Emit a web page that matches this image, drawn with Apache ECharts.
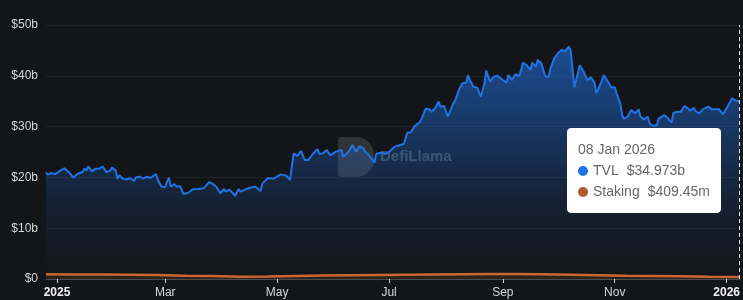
<!DOCTYPE html>
<html>
<head>
<meta charset="utf-8">
<script src="https://cdn.jsdelivr.net/npm/echarts@6/dist/echarts.min.js"></script>
<style>
html,body{margin:0;padding:0;background:#131518;}
#c{width:743px;height:300px;}
</style>
</head>
<body>
<div id="c"></div>
<script>
// Day offsets relative to 2025-01-01 (UTC)
const baseDate = '2025-01-01';
const tvlDays = [-6,-5,-3,-1,0,2,4,5,7,9,11,14,15,16,17,19,21,23,25,27,29,30,32,33,34,36,38,40,42,43,45,47,49,51,52,54,55,57,59,60,61,62,64,65,67,69,70,72,74,77,78,80,83,85,87,89,91,92,94,96,97,98,99,100,101,104,
105,108,111,112,115,118,122,125,127,129,131,133,135,137,139,140,142,143,145,147,149,152,155,156,159,161,163,165,167,168,170,173,174,177,179,181,182,184,185,187,189,191,193,195,198,199,201,203,204,206,208,209,211,213,216,217,219,221,223,224,225,227,229,231,233,234,236,238,240,
243,245,246,248,249,250,252,254,256,258,259,261,262,264,266,268,269,271,273,275,277,279,280,281,282,285,287,289,291,293,294,296,298,300,302,304,305,307,308,309,311,312,313,315,317,318,320,322,323,325,327,328,331,333,335,336,338,340,342,344,345,347,348,350,352,355,357,358,361,363,366,368,370,372];
// TVL in billions USD
const tvlValues = [21.00,20.54,20.87,20.60,20.93,21.39,21.78,21.92,20.80,19.95,20.67,21.06,21.78,21.33,22.18,21.19,21.72,21.72,22.11,21.00,21.33,21.92,21.33,19.75,20.41,19.69,19.62,19.82,19.29,20.01,20.14,19.75,20.14,19.88,19.95,20.67,19.49,18.18,18.11,19.16,19.95,18.18,18.70,18.18,18.31,16.73,17.06,17.06,17.65,17.72,17.39,17.85,19.09,18.70,18.04,16.86,17.72,17.19,17.59,16.86,16.34,16.34,17.72,17.19,17.52,17.85,
17.78,18.18,17.32,18.83,19.88,19.75,20.60,20.34,19.49,24.74,24.21,25.20,23.43,23.43,24.41,24.54,25.59,24.61,24.74,25.39,24.34,25.07,25.39,24.08,25.07,26.38,25.07,26.18,25.72,25.07,24.41,22.90,24.61,24.93,24.61,25.00,24.61,26.05,25.85,26.38,26.57,28.81,28.94,30.12,30.97,31.76,33.53,33.40,32.87,33.60,34.91,33.92,34.06,31.96,34.58,35.10,37.20,38.52,38.65,40.09,39.17,37.86,37.66,35.89,38.52,41.01,38.84,39.83,40.03,
39.17,38.65,40.16,39.17,39.30,40.35,39.96,42.59,42.13,41.14,42.59,41.80,43.11,42.45,39.96,39.83,41.47,43.44,44.42,45.08,44.88,45.73,44.95,45.21,37.73,42.06,40.81,39.17,39.70,38.65,36.55,38.19,40.16,39.04,37.73,37.73,36.55,34.58,32.28,31.50,31.96,31.63,33.27,32.61,33.40,31.96,31.43,31.96,30.64,30.12,30.31,31.63,32.28,31.63,30.77,32.74,32.87,32.94,34.06,33.60,33.07,33.73,33.07,32.61,33.40,33.92,33.40,33.27,33.40,32.41,34.25,35.56,35.10,34.973];

const stakingDays = [-6,10,25,40,55,70,85,100,115,130,145,160,175,190,205,220,235,250,265,280,295,310,325,340,355,372];
// Staking in billions USD
const stakingValues = [0.95,0.90,0.90,0.85,0.80,0.65,0.60,0.45,0.50,0.60,0.70,0.75,0.80,0.85,0.90,0.95,1.00,1.00,0.95,0.85,0.75,0.65,0.60,0.55,0.45,0.40945];

const xTickDates = ['2025-01-01','2025-03-01','2025-05-01','2025-07-01','2025-09-01','2025-11-01','2026-01-01'];
const xTickLabels = ['2025','Mar','May','Jul','Sep','Nov','2026'];

const seriesNames = ['TVL','Staking'];
const seriesColors = ['#2172e5','#b5592c'];

const DAY = 86400000;
const base = Date.parse(baseDate + 'T00:00:00Z');
const tvlData = tvlDays.map((d,i)=>[base + d*DAY, tvlValues[i]]);
const stakingData = stakingDays.map((d,i)=>[base + d*DAY, stakingValues[i]]);
const tickTimes = xTickDates.map(s=>Date.parse(s+'T00:00:00Z'));
const MONTHS = ['Jan','Feb','Mar','Apr','May','Jun','Jul','Aug','Sep','Oct','Nov','Dec'];

function fmtMoney(v){
  if (v >= 1) return '$' + v.toFixed(3) + 'b';
  return '$' + (v*1000).toFixed(2) + 'm';
}
function fmtDate(t){
  const d = new Date(t);
  return String(d.getUTCDate()).padStart(2,'0') + ' ' + MONTHS[d.getUTCMonth()] + ' ' + d.getUTCFullYear();
}

const FONT = '"Liberation Sans", Arial, sans-serif';
const chart = echarts.init(document.getElementById('c'), null, {renderer:'canvas'});
chart.setOption({
  backgroundColor: '#131518',
  animation: false,
  textStyle: {fontFamily: FONT},
  grid: {left: 46, right: 2, top: 25, bottom: 21},
  xAxis: {
    type: 'value',
    min: tvlData[0][0],
    max: tvlData[tvlData.length-1][0],
    axisLine: {lineStyle: {color: '#4a4e54', width: 1}},
    axisTick: {show: true, length: 4, lineStyle: {color: '#d0d0d0'}, customValues: tickTimes},
    splitLine: {show: false},
    axisLabel: {
      customValues: tickTimes,
      color: '#d4d6d9',
      fontSize: 12,
      fontFamily: FONT,
      margin: 8,
      formatter: function(v){
        let i = -1;
        tickTimes.forEach((t, k) => { if (Math.abs(t - v) < DAY / 2) i = k; });
        const lab = i >= 0 ? xTickLabels[i] : '';
        return /^\d{4}$/.test(lab) ? '{b|' + lab + '}' : lab;
      },
      rich: {b: {fontWeight: 'bold', color: '#f2f2f2', fontSize: 12, fontFamily: FONT}}
    }
  },
  yAxis: {
    type: 'value',
    min: 0, max: 50, interval: 10,
    axisLine: {show: false},
    axisTick: {show: false},
    splitLine: {lineStyle: {color: '#1f2226', width: 1}},
    axisLabel: {
      color: '#d4d6d9', fontSize: 12, fontFamily: FONT, margin: 8,
      formatter: v => v === 0 ? '$0' : '$' + v + 'b'
    }
  },
  tooltip: {
    trigger: 'axis',
    triggerOn: 'none',
    alwaysShowContent: true,
    backgroundColor: '#ffffff',
    borderColor: '#ffffff',
    borderWidth: 1,
    borderRadius: 4,
    padding: [10, 10, 10, 10],
    extraCssText: 'box-shadow:none;',
    transitionDuration: 0,
    axisPointer: {
      type: 'line',
      label: {show: false},
      lineStyle: {color: '#e0e0e0', width: 1, type: [4, 3]}
    },
    position: function(point, params, dom, rect, size){
      return [point[0] - size.contentSize[0] - 18, 128];
    },
    formatter: function(params){
      let html = '<div style="font-family:' + FONT.replace(/"/g,"'") + ';font-size:14px;color:#666;line-height:21px;">' + fmtDate(params[0].value[0]);
      params.forEach(p => {
        html += '<div><span style="display:inline-block;width:10px;height:10px;border-radius:5px;background:' + seriesColors[p.seriesIndex] + ';margin-right:5px;vertical-align:-1px;"></span>' + p.seriesName + '<span style="margin-left:8px;">' + fmtMoney(p.value[1]) + '</span></div>';
      });
      return html + '</div>';
    }
  },
  graphic: [
    {type: 'rect', left: 338, top: 137, z: 0, silent: true,
     shape: {width: 36, height: 40, r: [3, 18, 18, 3]},
     style: {fill: 'rgba(255,255,255,0.13)'}},
    {type: 'text', left: 380, top: 149, z: 0, silent: true,
     style: {text: 'DefiLlama', fill: 'rgba(255,255,255,0.22)', font: 'bold 15px ' + FONT}}
  ],
  series: [
    {
      name: seriesNames[0], type: 'line', data: tvlData, symbol: 'none', z: 3,
      color: seriesColors[0],
      lineStyle: {color: '#2172e5', width: 2},
      areaStyle: {color: new echarts.graphic.LinearGradient(0,0,0,1,[
        {offset: 0, color: 'rgba(33,114,229,0.85)'},
        {offset: 0.25, color: 'rgba(33,114,229,0.62)'},
        {offset: 0.55, color: 'rgba(33,114,229,0.30)'},
        {offset: 0.75, color: 'rgba(33,114,229,0.13)'},
        {offset: 1, color: 'rgba(33,114,229,0.0)'}
      ])},
      emphasis: {disabled: true}
    },
    {
      name: seriesNames[1], type: 'line', data: stakingData, symbol: 'none', z: 4,
      color: seriesColors[1],
      lineStyle: {color: '#cc6630', width: 2.5},
      areaStyle: {color: 'rgba(180,90,45,0.25)'},
      emphasis: {disabled: true}
    }
  ]
});
chart.dispatchAction({type: 'showTip', seriesIndex: 0, dataIndex: tvlData.length - 1});
</script>
</body>
</html>
